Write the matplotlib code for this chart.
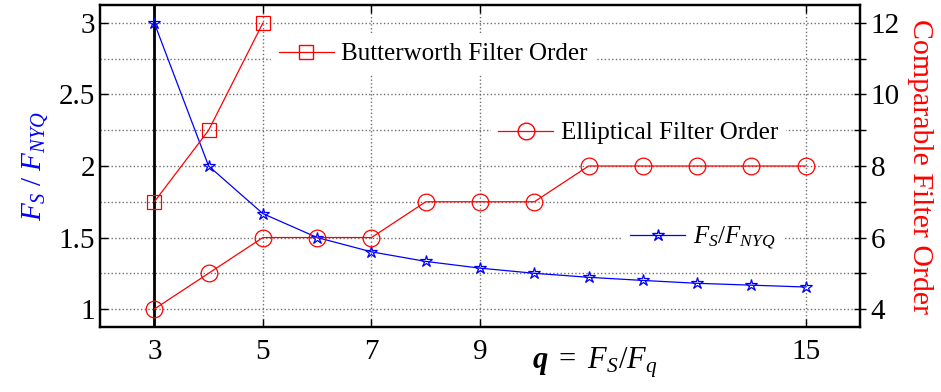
#!/usr/bin/env python3
"""Sampling ratio vs. comparable filter order (Butterworth / elliptical)."""

import matplotlib
matplotlib.use("Agg")
import matplotlib.pyplot as plt
from matplotlib.lines import Line2D
from matplotlib.ticker import MultipleLocator, FormatStrFormatter

plt.rcParams["font.family"] = ["Liberation Serif", "DejaVu Serif"]
plt.rcParams["mathtext.fontset"] = "custom"
plt.rcParams["mathtext.rm"] = "Liberation Serif"
plt.rcParams["mathtext.it"] = "Liberation Serif:italic"
plt.rcParams["mathtext.bf"] = "Liberation Serif:bold:italic"

q = [3, 4, 5, 6, 7, 8, 9, 10, 11, 12, 13, 14, 15]
fs_over_fnyq = [3.0, 2.0, 1.667, 1.5, 1.4, 1.333, 1.286, 1.25, 1.222, 1.2, 1.18, 1.167, 1.154]
q_butter = [3, 4, 5]
butter_order = [7, 9, 12]
elliptic_order = [4, 5, 6, 6, 6, 7, 7, 7, 8, 8, 8, 8, 8]
x_ticks = [3, 5, 7, 9, 15]

BLUE = "#0000ff"
RED = "#ff0000"
GRID = dict(color="#707070", linestyle=":", linewidth=1.0)

fig = plt.figure(figsize=(9.41, 3.92), dpi=100)
ax = fig.add_axes([0.1063, 0.166, 0.8077, 0.821])
ax2 = ax.twinx()

# left axis: F_S / F_NYQ
ax.plot(q, fs_over_fnyq, color=BLUE, linewidth=0.9, marker="*", markersize=9,
        markerfacecolor="none", markeredgecolor=BLUE, markeredgewidth=0.9, zorder=4)
ax.axvline(3, color="black", linewidth=2, zorder=3)
ax.set_xlim(2, 16)
ax.set_ylim(0.875, 3.125)
ax.set_xticks(x_ticks)
ax.yaxis.set_major_locator(MultipleLocator(0.5))
ax.yaxis.set_minor_locator(MultipleLocator(0.25))
ax.yaxis.set_major_formatter(FormatStrFormatter("%g"))
ax.grid(True, which="both", axis="y", **GRID)
ax.grid(True, which="major", axis="x", **GRID)
ax.set_axisbelow(True)
ax.tick_params(axis="both", which="major", direction="in", length=6, labelsize=21,
               top=True, width=1)
ax.tick_params(axis="y", which="minor", length=0)
ax.tick_params(axis="x", pad=9)
ax.set_ylabel(r"$F_S\ /\ F_{NYQ}$", color=BLUE, fontsize=21, labelpad=6)

# right axis: filter order
ax2.plot(q_butter, butter_order, color=RED, linewidth=0.9, marker="s", markersize=10,
         markerfacecolor="none", markeredgecolor=RED, markeredgewidth=0.9)
ax2.plot(q, elliptic_order, color=RED, linewidth=0.9, marker="o", markersize=12,
         markerfacecolor="none", markeredgecolor=RED, markeredgewidth=0.9)
ax2.set_ylim(3.5, 12.5)
ax2.yaxis.set_major_locator(MultipleLocator(2))
ax2.yaxis.set_minor_locator(MultipleLocator(1))
ax2.tick_params(axis="y", which="major", direction="inout", length=8, labelsize=21, width=1)
ax2.tick_params(axis="y", which="minor", direction="inout", length=8, width=1)
ax2.set_ylabel("Comparable Filter Order", color=RED, fontsize=21.5, rotation=270,
               labelpad=24)

for a in (ax, ax2):
    for side in a.spines.values():
        side.set_linewidth(1.6)

fig.text(595 / 941, 1 - 363 / 392, r"$\mathbf{q}\ =\ F_S/F_q$", fontsize=22,
         ha="center", va="center")

legend_items = [
    (Line2D([], [], color=RED, lw=0.9, marker="s", ms=10, mfc="none", mec=RED),
     "Butterworth Filter Order", (433 / 941, 1 - 54 / 392)),
    (Line2D([], [], color=RED, lw=0.9, marker="o", ms=12, mfc="none", mec=RED),
     "Elliptical Filter Order", (638 / 941, 1 - 133 / 392)),
    (Line2D([], [], color=BLUE, lw=0.9, marker="*", ms=9, mfc="none", mec=BLUE),
     r"$F_S/F_{NYQ}$", (703 / 941, 1 - 238 / 392)),
]
for handle, label, anchor in legend_items:
    fig.legend([handle], [label], loc="center", bbox_to_anchor=anchor,
               fontsize=18, frameon=True, fancybox=False, framealpha=1,
               edgecolor="white", facecolor="white", handlelength=2.2,
               handletextpad=0.3, borderpad=0.3, numpoints=1)

fig.savefig("out.png", dpi=100)
plt.close(fig)
